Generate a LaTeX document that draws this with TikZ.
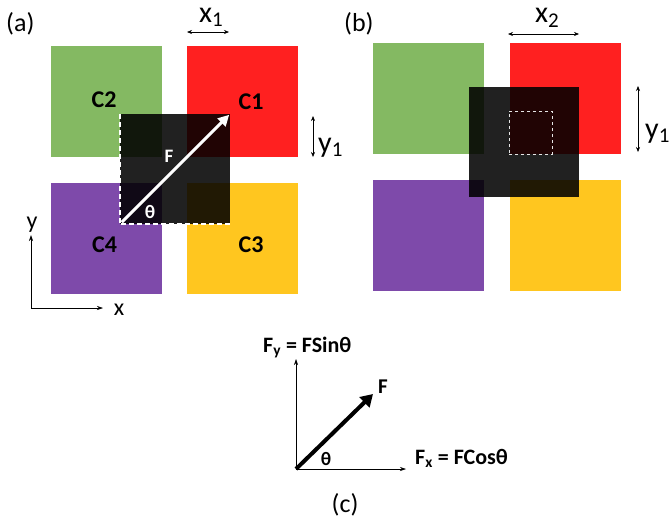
\documentclass[tikz,border=0pt]{standalone}
\usepackage{fontspec}
\setmainfont{Carlito}
\usetikzlibrary{positioning,arrows.meta,calc}
\definecolor{cgreen}{HTML}{84B962}
\definecolor{cred}{HTML}{FF2020}
\definecolor{cpurple}{HTML}{7E4AAA}
\definecolor{cyellow}{HTML}{FFC61F}
\tikzset{
    every node/.style={font=\fontsize{26}{30}\selectfont,inner sep=0pt,anchor=base},
    cell/.style={rectangle,minimum size=111pt,inner sep=0pt,anchor=center},
    darkbox/.style={rectangle,minimum size=110pt,inner sep=0pt,fill=black,fill opacity=0.87,anchor=center},
    celltext/.style={font=\fontsize{24}{27}\selectfont\bfseries},
    smalltext/.style={font=\fontsize{19}{22}\selectfont\bfseries},
    bigsym/.style={font=\fontsize{30}{34}\selectfont,anchor=base west},
    axislabel/.style={font=\fontsize{24}{28}\selectfont},
    dimarrow/.style={<->,>={Stealth[length=5pt,width=4pt]},semithick},
    axis/.style={->,>={Stealth[length=6pt,width=4pt]},semithick},
    dashline/.style={draw=white,line width=1.6pt,dash pattern=on 5pt off 3pt}
}
\begin{document}
\begin{tikzpicture}[x=1pt,y=-1pt]
\useasboundingbox (0,0) rectangle (671,523);
% (a) four cells, force square shifted over the centre
\node[cell,fill=cgreen] (c2a) at (106.5,101.5) {};
\node[cell,fill=cred] (c1a) at (242.5,101.5) {};
\node[cell,fill=cpurple] (c4a) at (106.5,238) {};
\node[cell,fill=cyellow] (c3a) at (242.5,238) {};
\node[darkbox] (da) at (175,169) {};
\draw[dashline] (da.north west) -- (da.south west) -- (da.south east);
\draw[white,line width=3pt,-{Triangle[length=11pt,width=11pt]}] ($(da.south west)+(2,-2)$) -- ($(da.north east)+(-1,1)$);
\node[celltext] (lc2) at (104,107) {C2};
\node[celltext] (lc1) at (251,109) {C1};
\node[celltext] (lc4) at (104.5,252) {C4};
\node[celltext] (lc3) at (251,252) {C3};
\node[smalltext,text=white] (lf) at (169,162) {F};
\node[smalltext,text=white] (lt) at (150,218) {θ};
\node[anchor=base west] (la) at (6,31) {(a)};
% dimensions
\coordinate (x1l) at (187,32); \coordinate (x1r) at (229,32);
\draw[dimarrow] (x1l) -- (x1r);
\node[bigsym] (lx1) at (199,22) {x\textsubscript{1}};
\coordinate (y1t) at (313,116); \coordinate (y1b) at (313,157);
\draw[dimarrow] (y1t) -- (y1b);
\node[bigsym] (ly1) at (318,152) {y\textsubscript{1}};
% axes
\coordinate (oa) at (31,308);
\coordinate (ya) at (31,235);
\coordinate (xa) at (103,308);
\draw[axis] (oa) -- (ya);
\draw[axis] (oa) -- (xa);
\node[axislabel] (ly) at (32,228) {y};
\node[axislabel] (lx) at (119,315) {x};
% (b)
\node[cell,fill=cgreen] (c2b) at (428.5,98.5) {};
\node[cell,fill=cred] (c1b) at (565,98.5) {};
\node[cell,fill=cpurple] (c4b) at (428.5,235.5) {};
\node[cell,fill=cyellow] (c3b) at (565,235.5) {};
\node[darkbox] (db) at (524,141.5) {};
\node[rectangle,minimum size=43pt,inner sep=0pt,anchor=center,draw=white!80!gray,dashed,semithick] (sb) at (530.5,132.5) {};
\node[anchor=base west] (lb) at (344,31) {(b)};
\coordinate (x2l) at (508,34); \coordinate (x2r) at (579,34);
\draw[dimarrow] (x2l) -- (x2r);
\node[bigsym] (lx2) at (535,22) {x\textsubscript{2}};
\coordinate (y2t) at (638,86); \coordinate (y2b) at (638,152);
\draw[dimarrow] (y2t) -- (y2b);
\node[bigsym] (ly2) at (645,138) {y\textsubscript{1}};
% (c) components
\coordinate (oc) at (296,469);
\coordinate (yc) at (296,359);
\coordinate (xc) at (406,469);
\coordinate (fc) at (373,394);
\draw[axis] (oc) -- (yc);
\draw[axis] (oc) -- (xc);
\draw[line width=4pt,-{Triangle[length=12pt,width=14pt]}] (oc) -- (fc);
\node[celltext,font=\fontsize{22}{26}\selectfont\bfseries,anchor=base west] (fy) at (263,352) {F\textsubscript{y} = FSinθ};
\node[celltext,font=\fontsize{22}{26}\selectfont\bfseries,anchor=base west] (fx) at (415,464) {F\textsubscript{x} = FCosθ};
\node[smalltext,font=\fontsize{21}{24}\selectfont\bfseries] (lfc) at (383,393) {F};
\node[smalltext] (ltc) at (326,465) {θ};
\node (lc) at (345,512) {(c)};
\end{tikzpicture}
\end{document}
